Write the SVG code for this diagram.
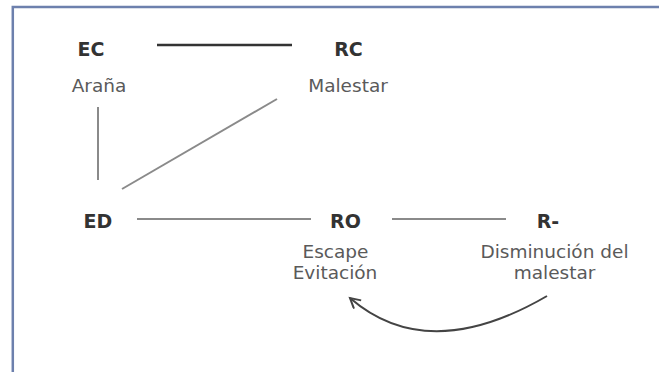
<svg xmlns="http://www.w3.org/2000/svg" width="659" height="372" viewBox="0 0 659 372">
<style>
.b{font-family:"DejaVu Sans",Verdana,sans-serif;font-weight:bold;font-size:19px;fill:#333;text-anchor:middle}
.r{font-family:"DejaVu Sans",Verdana,sans-serif;font-size:18.5px;fill:#5a5a5a;text-anchor:middle}
.ln{stroke:#8a8a8a;stroke-width:2;fill:none}
</style>
<defs>
<marker id="ah" markerUnits="userSpaceOnUse" markerWidth="14" markerHeight="14" refX="11" refY="6" orient="auto">
<path d="M1,0.5 L11,6 L1,11.5" fill="none" stroke="#444" stroke-width="2"/>
</marker>
</defs>
<rect width="659" height="372" fill="#fff"/>
<path d="M12.8,372 V7 H659" fill="none" stroke="#6d80ad" stroke-width="2.5"/>
<g id="connectors">
<line x1="157" y1="45" x2="292" y2="45" stroke="#333" stroke-width="2.5"/>
<line class="ln" x1="98" y1="107" x2="98" y2="180" stroke="#999"/>
<line class="ln" x1="122" y1="189" x2="277" y2="99"/>
<line class="ln" x1="137" y1="219" x2="311" y2="219"/>
<line class="ln" x1="392" y1="219" x2="506" y2="219"/>
<path d="M547,296 C480,335 410,350 350,298" fill="none" stroke="#444" stroke-width="2" marker-end="url(#ah)"/>
</g>
<g id="EC"><text class="b" x="91" y="56">EC</text><text class="r" x="99" y="92">Araña</text></g>
<g id="RC"><text class="b" x="348.5" y="56">RC</text><text class="r" x="348" y="92">Malestar</text></g>
<g id="ED"><text class="b" x="98" y="228">ED</text></g>
<g id="RO"><text class="b" x="345.5" y="228">RO</text><text class="r" x="335.5" y="258">Escape</text><text class="r" x="335" y="279">Evitación</text></g>
<g id="Rneg"><text class="b" x="548" y="228">R-</text><text class="r" x="554.5" y="258">Disminución del</text><text class="r" x="554.5" y="279">malestar</text></g>
</svg>
